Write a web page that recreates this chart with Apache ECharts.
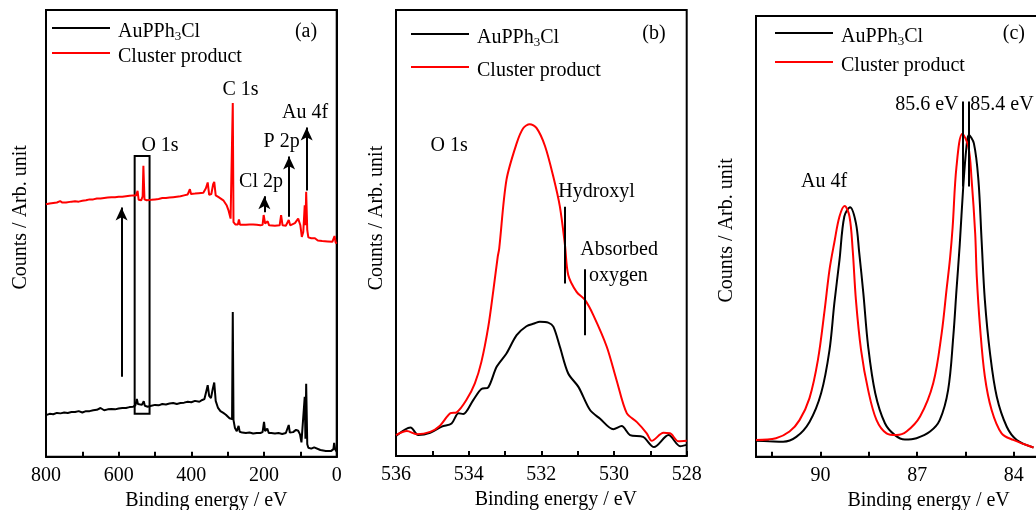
<!DOCTYPE html>
<html>
<head>
<meta charset="utf-8">
<title>XPS spectra: AuPPh3Cl vs cluster product</title>
<script src="https://cdn.jsdelivr.net/npm/echarts@6.0.0/dist/echarts.min.js"></script>
<style>
  html, body { margin: 0; padding: 0; background: #ffffff; }
  #chart { width: 1036px; height: 510px; }
</style>
</head>
<body>
<div id="chart"></div>
<script>
// ---- Series names ----
const precursorName = 'AuPPh3Cl';
const clusterName = 'Cluster product';

// ---- (a) Survey spectrum: [binding energy (eV), counts (arb.)] ----
const surveyPrecursor = [
  [800,9.3],[790,9.6],[780,9.5],[770,9.8],[760,9.7],[750,9.9],[740,9.8],[730,10.0],[720,10.0],[710,10.2],
  [700,9.9],[690,10.2],[680,10.2],[670,10.4],[660,10.5],[650,10.9],[645,10.6],[640,10.4],[630,10.6],[620,10.7],
  [610,10.6],[600,10.8],[590,10.9],[580,10.9],[570,11.1],[560,11.2],[554,11.5],[550,12.9],[547,11.8],[542,11.4],
  [536,11.6],[531,12.4],[528,11.4],[520,11.2],[510,11.4],[500,11.6],[490,11.5],[480,11.8],[470,11.7],[460,11.9],
  [450,12.0],[440,11.8],[430,12.0],[420,12.1],[410,12.3],[400,12.2],[390,12.5],[385,12.6],[378,12.3],[370,12.7],
  [364,12.9],[359,14.6],[355,16.0],[351,13.6],[346,13.1],[341,15.2],[337,16.6],[333,12.5],[327,11.0],[320,10.2],
  [312,9.8],[305,9.4],[300,9.1],[295,8.6],[291,8.2],[288,8.4],[286,32.4],[284,8.2],[280,6.4],[275,5.7],
  [270,6.9],[267,5.6],[260,5.4],[250,5.3],[240,5.4],[230,5.2],[220,5.3],[210,5.3],[204,5.5],[200,7.8],
  [197,5.7],[191,6.3],[187,5.3],[180,5.3],[170,5.2],[160,5.3],[150,5.1],[140,5.3],[135,5.4],[132,7.1],
  [129,5.4],[120,5.5],[112,6.0],[106,5.8],[101,5.0],[97,3.2],[92,3.6],[88,13.4],[86,4.0],[84,16.3],
  [81,2.8],[78,2.0],[70,1.8],[62,2.1],[57,1.7],[45,1.5],[30,1.3],[15,1.3],[9,1.7],[7,3.1],[4,1.6],[0,1.1]
];
const surveyCluster = [
  [800,56.5],[790,56.7],[780,56.8],[770,56.9],[761,57.2],[755,56.9],[745,56.9],[730,57.1],[720,57.2],[710,57.1],
  [700,57.3],[690,57.4],[680,57.6],[670,57.6],[660,57.8],[650,57.8],[640,57.9],[630,58.0],[620,58.1],[610,58.1],
  [600,58.2],[590,58.2],[580,58.3],[570,58.4],[560,58.5],[552,58.5],[548,59.5],[545,57.5],[538,57.4],[534,58.3],
  [532,65.1],[529,57.6],[523,57.4],[510,57.5],[500,57.6],[490,57.7],[480,57.9],[470,57.9],[460,58.0],[450,58.1],
  [440,58.2],[430,58.3],[420,58.5],[410,58.7],[406,58.8],[404,59.9],[401,58.8],[390,58.9],[380,59.0],[367,59.1],
  [360,60.1],[355,61.4],[351,58.6],[345,58.8],[340,61.0],[337,61.5],[333,58.5],[325,58.1],[312,57.4],[303,56.3],
  [298,55.2],[292,53.3],[288,53.3],[286,79.2],[284,52.5],[279,52.0],[272,52.0],[269,53.1],[266,51.9],[250,51.9],
  [240,52.0],[230,52.0],[220,51.9],[210,51.8],[204,51.9],[201,54.1],[197,52.2],[190,52.7],[186,51.8],[170,51.7],
  [157,51.8],[153,54.1],[149,51.8],[140,51.7],[135,51.8],[132,53.0],[128,51.8],[115,52.3],[106,53.3],[100,51.8],
  [96,49.2],[92,50.3],[88,56.3],[86,51.8],[84,59.3],[81,50.7],[78,49.1],[70,48.9],[60,48.9],[52,48.4],
  [40,48.3],[25,48.2],[12,48.1],[8,48.5],[6,49.4],[3,48.0],[0,47.7]
];

// ---- (b) O 1s region ----
const o1sPrecursor = [
  [536.0,4.5],[535.6,6.4],[535.39,4.7],[535.06,5.2],[534.74,6.6],[534.47,7.3],[534.28,9.6],[534.15,9.4],
  [533.87,12.6],[533.65,15.0],[533.46,15.4],[533.23,20.0],[532.96,23.0],[532.68,27.1],[532.41,29.1],[532.2,29.7],
  [532.04,30.1],[531.81,29.9],[531.67,29.0],[531.49,24.5],[531.26,18.5],[530.98,15.5],[530.66,10.3],[530.39,8.4],
  [530.02,6.0],[529.79,6.7],[529.56,4.7],[529.2,4.3],[528.9,2.0],[528.5,4.7],[528.18,2.2],[528.0,2.5]
];
const o1sCluster = [
  [536.0,4.7],[535.7,5.6],[535.43,4.9],[535.06,5.4],[534.79,6.8],[534.5,9.6],[534.33,9.8],[534.06,12.6],
  [533.83,16.3],[533.65,21.1],[533.46,29.0],[533.32,37.2],[533.2,44.7],[533.16,46.5],[532.96,61.9],[532.68,70.1],
  [532.5,73.5],[532.32,74.4],[532.13,73.5],[531.9,69.5],[531.67,62.6],[531.49,55.9],[531.35,47.3],[531.26,40.6],
  [531.03,36.8],[530.8,35.0],[530.57,31.6],[530.2,24.5],[529.93,17.0],[529.65,9.6],[529.37,7.6],[529.1,5.1],
  [528.96,3.4],[528.64,5.2],[528.46,5.1],[528.23,3.3],[528.0,3.4]
];

// ---- (c) Au 4f region ----
const au4fPrecursor = [
  [92.0,3.6],[91.6,3.5],[91.16,3.4],[90.75,4.5],[90.34,7.9],[89.98,14.4],[89.72,24.2],[89.57,34.8],
  [89.41,44.6],[89.26,54.5],[89.08,56.6],[88.9,53.0],[88.8,46.5],[88.67,37.1],[88.52,25.0],[88.3,14.4],
  [88.0,7.6],[87.69,4.9],[87.38,3.9],[87.02,4.2],[86.6,5.7],[86.3,8.3],[86.04,15.1],[85.88,27.2],
  [85.78,37.8],[85.68,48.0],[85.57,61.3],[85.47,70.3],[85.4,73.0],[85.24,71.1],[85.1,62.8],[85.0,49.0],
  [84.9,35.6],[84.74,23.5],[84.53,13.6],[84.22,6.8],[83.91,3.8],[83.39,2.1]
];
const au4fCluster = [
  [92.0,3.8],[91.38,4.2],[90.96,5.7],[90.65,8.3],[90.34,13.3],[90.08,21.9],[89.87,33.3],[89.72,42.4],
  [89.57,48.6],[89.41,54.5],[89.25,56.9],[89.1,54.5],[89.0,46.9],[88.9,35.6],[88.74,24.2],[88.52,15.1],
  [88.26,8.3],[87.95,5.3],[87.64,4.9],[87.33,5.7],[86.91,9.1],[86.5,16.7],[86.24,28.0],[86.09,37.8],
  [85.98,45.0],[85.9,52.0],[85.78,65.8],[85.6,73.3],[85.41,70.3],[85.31,62.8],[85.2,50.7],[85.15,40.8],
  [85.05,29.5],[84.9,18.2],[84.69,10.6],[84.38,5.3],[84.02,3.8],[83.39,2.1]
];

// ---- Axis ranges and tick labels ----
const surveyRange = [0, 800];   const surveyTickStep = 100; const surveyLabelStep = 200;
const o1sRange = [528, 536];    const o1sTickStep = 1;      const o1sLabelStep = 2;
const au4fRange = [82.5, 92];   const au4fTickStep = 1.5;   const au4fLabelStep = 3;

// ---- Peak assignments / annotations ----
const au4fPeakCluster = 85.6;
const au4fPeakPrecursor = 85.4;

const FONT = '"Liberation Serif", "Times New Roman", "DejaVu Serif", serif';
const INK = '#000000';
const RED = '#ff0000';

const chart = echarts.init(document.getElementById('chart'), null, { renderer: 'canvas' });

function xAxisFor(gridIndex, range, step, labelStep, namePadLeft) {
  return {
    type: 'value', gridIndex, inverse: true,
    min: range[0], max: range[1], interval: step,
    axisLine: { show: true, onZero: false, lineStyle: { color: INK, width: 2 } },
    axisTick: { show: true, inside: true, length: 5, lineStyle: { color: INK, width: 2 } },
    splitLine: { show: false },
    axisLabel: {
      color: INK, fontSize: 20, fontFamily: FONT, margin: 9,
      formatter: v => {
        const r = Math.abs(v / labelStep - Math.round(v / labelStep));
        return r < 1e-6 ? String(Math.round(v * 10) / 10) : '';
      }
    },
    name: 'Binding energy / eV', nameLocation: 'middle', nameGap: 34,
    nameTextStyle: { color: INK, fontSize: 20, fontFamily: FONT, padding: [0, 0, 0, namePadLeft] }
  };
}
function yAxisFor(gridIndex, gap, padLeft) {
  return {
    type: 'value', gridIndex, min: 0, max: 100,
    axisLine: { show: true, lineStyle: { color: INK, width: 2 } },
    axisTick: { show: false }, axisLabel: { show: false }, splitLine: { show: false },
    name: 'Counts / Arb. unit', nameLocation: 'middle', nameGap: gap,
    nameTextStyle: { color: INK, fontSize: 20, fontFamily: FONT, padding: [0, 0, 0, padLeft] }
  };
}

const textStyleBase = { color: INK, fontSize: 20, fontFamily: FONT };
function note(coord, text) {
  return {
    coord, symbol: 'circle', symbolSize: 1, itemStyle: { color: 'rgba(0,0,0,0)' },
    label: { show: true, position: 'inside', formatter: text, ...textStyleBase }
  };
}
function segment(from, to) { return [{ coord: from }, { coord: to }]; }

// One legend row per entry so each panel's key can be placed on its own
function legendRow(name, left, top) {
  return {
    data: [name], left, top, orient: 'horizontal', selectedMode: false, padding: 0,
    icon: 'rect', itemWidth: 58, itemHeight: 2, itemGap: 0,
    textStyle: {
      color: INK, fontFamily: FONT, fontSize: 20, padding: [8, 0, 0, 3],
      rich: {
        n: { fontSize: 20, fontFamily: FONT, color: INK, lineHeight: 22 },
        s: { fontSize: 13, fontFamily: FONT, color: INK, lineHeight: 13, verticalAlign: 'bottom' }
      }
    },
    formatter: n => n === precursorName ? '{n|AuPPh}{s|3}{n|Cl}' : '{n|' + n + '}'
  };
}

function lineSeries(name, color, xi, data, smooth, extra) {
  return Object.assign({
    type: 'line', name, xAxisIndex: xi, yAxisIndex: xi, data,
    symbol: 'none', smooth: smooth, silent: true,
    lineStyle: { color, width: 2 }, itemStyle: { color },
    emphasis: { disabled: true }, animation: false, z: color === RED ? 3 : 2
  }, extra || {});
}

const gridBase = { show: true, borderColor: INK, borderWidth: 2, backgroundColor: 'transparent', containLabel: false, outerBoundsMode: 'none' };

const option = {
  backgroundColor: '#ffffff',
  animation: false,
  grid: [
    Object.assign({ left: 46, top: 10, width: 290.7, height: 446.7 }, gridBase),
    Object.assign({ left: 396, top: 10, width: 290.7, height: 446 }, gridBase),
    Object.assign({ left: 756, top: 16, width: 306.2, height: 440.7 }, gridBase)
  ],
  xAxis: [
    xAxisFor(0, surveyRange, surveyTickStep, surveyLabelStep, 30),
    xAxisFor(1, o1sRange, o1sTickStep, o1sLabelStep, 29),
    xAxisFor(2, au4fRange, au4fTickStep, au4fLabelStep, 39)
  ],
  yAxis: [ yAxisFor(0, 15, 32), yAxisFor(1, 9, 30), yAxisFor(2, 19, 12) ],
  legend: [
    legendRow(precursorName, 52, 22), legendRow(clusterName, 52, 47),
    legendRow(precursorName, 411, 28), legendRow(clusterName, 411, 61),
    legendRow(precursorName, 775, 27), legendRow(clusterName, 775, 56)
  ],
  series: [
    // (a) survey
    lineSeries(precursorName, INK, 0, surveyPrecursor, false, {
      markArea: {
        silent: true,
        itemStyle: { color: 'rgba(0,0,0,0)', borderColor: INK, borderWidth: 2 },
        data: [[{ coord: [556, 9.6] }, { coord: [515, 67.3] }]]
      }
    }),
    lineSeries(clusterName, RED, 0, surveyCluster, false, {
      markLine: {
        silent: true, symbol: ['none', 'arrow'], symbolSize: [9, 13],
        lineStyle: { color: INK, width: 2, type: 'solid' }, label: { show: false },
        data: [
          segment([592, 17.9], [592, 55.8]),
          segment([199, 54.7], [199, 58.3]),
          segment([131, 53.7], [131, 67.2]),
          segment([82.6, 59.6], [82.6, 73.7])
        ]
      },
      markPoint: {
        silent: true,
        data: [
          note([84.5, 95.2], '(a)'),
          note([264.7, 82.2], 'C 1s'),
          note([486.3, 69.5], 'O 1s'),
          note([208.3, 61.6], 'Cl 2p'),
          note([151.4, 70.4], 'P 2p'),
          note([87.2, 76.9], 'Au 4f')
        ]
      }
    }),
    // (b) O 1s
    lineSeries(precursorName, INK, 1, o1sPrecursor, 0.3),
    lineSeries(clusterName, RED, 1, o1sCluster, 0.3, {
      markLine: {
        silent: true, symbol: 'none',
        lineStyle: { color: INK, width: 2, type: 'solid' }, label: { show: false },
        data: [
          segment([531.35, 55.9], [531.35, 38.7]),
          segment([530.8, 41.9], [530.8, 27.1])
        ]
      },
      markPoint: {
        silent: true,
        data: [
          note([528.9, 94.6], '(b)'),
          note([534.54, 69.5], 'O 1s'),
          note([530.48, 59.2], 'Hydroxyl'),
          note([529.86, 46.2], 'Absorbed'),
          note([529.88, 40.4], 'oxygen')
        ]
      }
    }),
    // (c) Au 4f
    lineSeries(precursorName, INK, 2, au4fPrecursor, 0.35),
    lineSeries(clusterName, RED, 2, au4fCluster, 0.35, {
      markLine: {
        silent: true, symbol: 'none',
        lineStyle: { color: INK, width: 2, type: 'solid' }, label: { show: false },
        data: [
          segment([au4fPeakCluster, 61.3], [au4fPeakCluster, 80.6]),
          segment([au4fPeakPrecursor, 61.3], [au4fPeakPrecursor, 80.6])
        ]
      },
      markPoint: {
        silent: true,
        data: [
          note([84.0, 95.9], '(c)'),
          note([86.7, 79.9], au4fPeakCluster.toFixed(1) + ' eV'),
          note([84.37, 79.9], au4fPeakPrecursor.toFixed(1) + ' eV'),
          note([89.89, 62.3], 'Au 4f')
        ]
      }
    })
  ]
};

chart.setOption(option);
</script>
</body>
</html>
